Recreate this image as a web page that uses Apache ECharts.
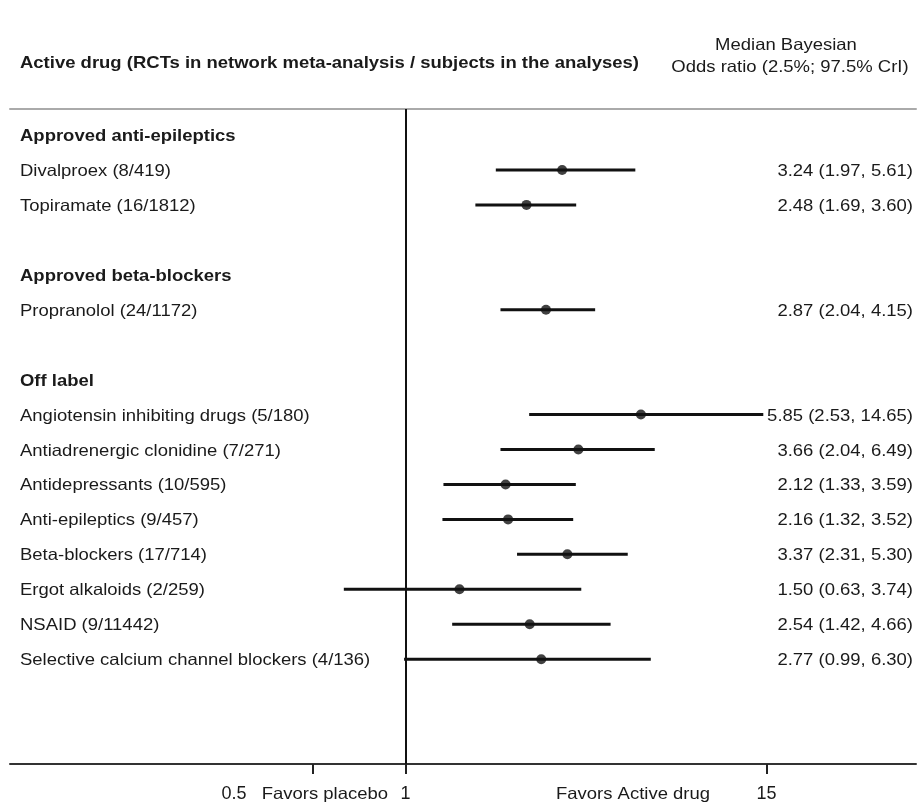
<!DOCTYPE html>
<html>
<head>
<meta charset="utf-8">
<script src="https://cdn.jsdelivr.net/npm/echarts@6/dist/echarts.min.js"></script>
<style>
html,body{margin:0;padding:0;background:#fff;}
#chart{width:923px;height:803px;}
</style>
</head>
<body>
<div id="chart"></div>
<script>
// Row labels (top to bottom); headers are bold
const rowLabels = [
  'Approved anti-epileptics',
  'Divalproex (8/419)',
  'Topiramate (16/1812)',
  '',
  'Approved beta-blockers',
  'Propranolol (24/1172)',
  '',
  'Off label',
  'Angiotensin inhibiting drugs (5/180)',
  'Antiadrenergic clonidine (7/271)',
  'Antidepressants (10/595)',
  'Anti-epileptics (9/457)',
  'Beta-blockers (17/714)',
  'Ergot alkaloids (2/259)',
  'NSAID (9/11442)',
  'Selective calcium channel blockers (4/136)'
];
const headerRows = [0, 4, 7];
const drugRows = [1, 2, 5, 8, 9, 10, 11, 12, 13, 14, 15];
const medianOR = [3.24, 2.48, 2.87, 5.85, 3.66, 2.12, 2.16, 3.37, 1.50, 2.54, 2.77];
const lowerCrI = [1.97, 1.69, 2.04, 2.53, 2.04, 1.33, 1.32, 2.31, 0.63, 1.42, 0.99];
const upperCrI = [5.61, 3.60, 4.15, 14.65, 6.49, 3.59, 3.52, 5.30, 3.74, 4.66, 6.30];
const xTicks = [0.5, 1, 15];
const refValue = 1;

const FONT = '"Liberation Sans", Arial, sans-serif';
const FS = 16.5;
const SX = 1.12;
const fmt = v => v.toFixed(2);

const ciData = drugRows.map((r, i) => [lowerCrI[i], upperCrI[i], r]);
const ptData = drugRows.map((r, i) => [medianOR[i], r]);
const labelData = rowLabels.map((t, i) => [refValue, i]);
const valueText = drugRows.map((r, i) => fmt(medianOR[i]) + ' (' + fmt(lowerCrI[i]) + ', ' + fmt(upperCrI[i]) + ')');
const valueData = drugRows.map((r, i) => [refValue, r]);

const X_MIN = 0.0515, X_MAX = 46.06;

function txt(x, y, text, opts) {
  opts = opts || {};
  return {
    type: 'text', x: x, y: y, scaleX: SX,
    style: {
      text: text, x: 0, y: 0,
      font: (opts.bold ? 'bold ' : '') + FS + 'px ' + FONT,
      fill: '#1a1a1a', align: opts.align || 'left', verticalAlign: 'middle'
    }
  };
}

const chart = echarts.init(document.getElementById('chart'));
chart.setOption({
  animation: false,
  backgroundColor: '#fff',
  grid: { left: 10, right: 7, top: 109, bottom: 39 },
  xAxis: [
    {
      type: 'log', logBase: Math.E, min: X_MIN, max: X_MAX, position: 'bottom',
      axisLine: { show: true, onZero: false, lineStyle: { color: '#333', width: 2 } },
      axisTick: { show: true, customValues: xTicks, length: 10, lineStyle: { color: '#222', width: 2 } },
      axisLabel: {
        show: true, customValues: xTicks, margin: 21,
        color: '#1a1a1a', fontFamily: FONT, fontSize: 18,
        formatter: v => (Math.abs(v - 0.5) < 1e-6 ? '{a|0.5}' : '{b|' + v + '}'),
        rich: {
          a: { color: '#1a1a1a', fontFamily: FONT, fontSize: 18, padding: [0, 158, 0, 0] },
          b: { color: '#1a1a1a', fontFamily: FONT, fontSize: 18 }
        }
      },
      splitLine: { show: false }
    },
    {
      type: 'log', logBase: Math.E, min: X_MIN, max: X_MAX, position: 'top',
      axisLine: { show: true, onZero: false, lineStyle: { color: '#aaa', width: 2 } },
      axisTick: { show: false }, axisLabel: { show: false }, splitLine: { show: false }
    }
  ],
  yAxis: {
    type: 'value', inverse: true, min: -0.744, max: 18,
    axisLine: { show: false }, axisTick: { show: false }, axisLabel: { show: false }, splitLine: { show: false }
  },
  graphic: [
    txt(20, 63, 'Active drug (RCTs in network meta-analysis / subjects in the analyses)', { bold: true }),
    txt(786, 45, 'Median Bayesian', { align: 'center' }),
    txt(790, 67, 'Odds ratio (2.5%; 97.5% CrI)', { align: 'center' }),
    txt(388, 794, 'Favors placebo', { align: 'right' }),
    txt(633, 794, 'Favors Active drug', { align: 'center' })
  ],
  series: [
    {
      type: 'custom', name: 'CrI', data: ciData, encode: { x: [0, 1], y: 2 },
      renderItem: (params, api) => {
        const a = api.coord([api.value(0), api.value(2)]);
        const b = api.coord([api.value(1), api.value(2)]);
        return { type: 'line', shape: { x1: a[0], y1: a[1], x2: b[0], y2: b[1] }, style: { stroke: '#111', lineWidth: 3 } };
      },
      markLine: {
        silent: true, symbol: 'none', label: { show: false },
        lineStyle: { color: '#111', width: 2, type: 'solid' },
        data: [{ xAxis: refValue }]
      },
      z: 3
    },
    {
      type: 'scatter', name: 'Median OR', data: ptData, symbol: 'circle', symbolSize: 10,
      itemStyle: { color: '#111' }, z: 4
    },
    {
      type: 'custom', name: 'rowLabels', data: labelData, encode: { x: 0, y: 1 }, silent: true,
      renderItem: (params, api) => {
        const i = api.value(1);
        const p = api.coord([api.value(0), i]);
        const bold = headerRows.indexOf(i) >= 0;
        return txt(params.coordSys.x + 10, p[1] + 1.5, rowLabels[i], { bold: bold });
      }
    },
    {
      type: 'custom', name: 'values', data: valueData, encode: { x: 0, y: 1 }, silent: true,
      renderItem: (params, api) => {
        const p = api.coord([api.value(0), api.value(1)]);
        return txt(params.coordSys.x + params.coordSys.width - 3, p[1] + 1.5, valueText[params.dataIndex], { align: 'right' });
      }
    }
  ]
});
</script>
</body>
</html>
